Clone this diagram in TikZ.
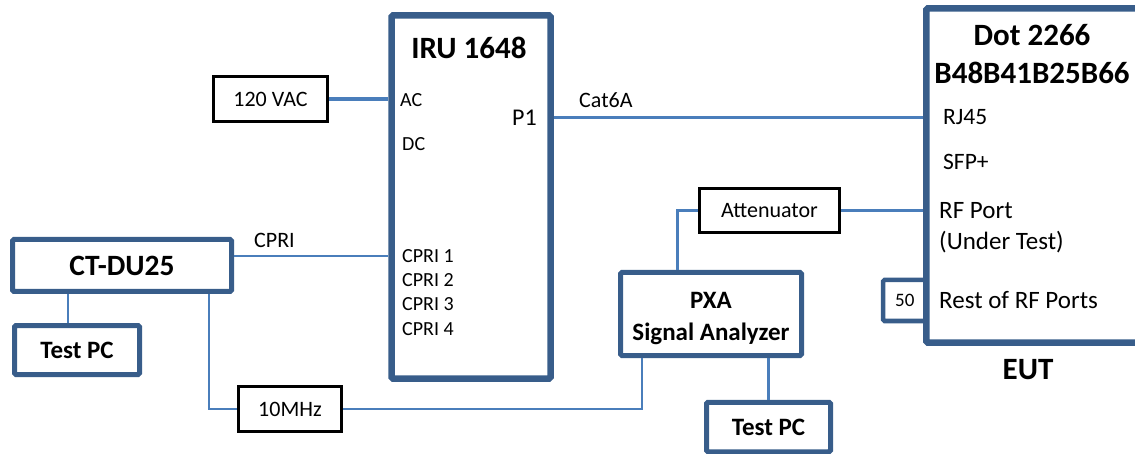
\documentclass[tikz,border=0pt]{standalone}
\usepackage{fontspec}
\setmainfont{Carlito}
\usepackage{xcolor}
\definecolor{boxblue}{HTML}{385D8A}
\definecolor{wireblue}{HTML}{4A7EBB}
\newcommand{\fsz}[1]{\fontsize{#1}{#1}\selectfont}
\usepackage{tikz}
\usetikzlibrary{calc}
\usetikzlibrary{positioning}

\begin{document}
\begin{tikzpicture}[x=1pt, y=-1pt,
    unit/.style={draw=boxblue, line width=6.5pt, rounded corners=1.5pt, inner sep=0pt},
    gear/.style={draw=boxblue, line width=5pt, rounded corners=1.5pt, inner sep=0pt, font=\bfseries\fsz{25}},
    small/.style={draw=black, line width=2.5pt, inner sep=0pt, font=\fsz{22}},
    wire/.style={draw=wireblue, line width=3pt},
    thinwire/.style={draw=wireblue, line width=2pt},
    port/.style={anchor=west, inner sep=0pt, font=\fsz{20}},
    euport/.style={anchor=west, inner sep=0pt, font=\fsz{23.5}},
    title/.style={inner sep=0pt, font=\bfseries\fsz{31}}] % test setup

      \useasboundingbox (0, 0) rectangle (1135, 454);

      \node [unit, line width=4.5pt, minimum width=43.5, minimum height=41, font=\fsz{19}] (term) at (904.75, 300.5) {50};
      \node [unit, minimum width=159, minimum height=363] (iru) at (471, 197) {};
      \node [unit, minimum width=215.5, minimum height=334] (eut) at (1034, 175.5) {};
      \node [small, minimum width=114, minimum height=45] (vac) at (270.5, 99) {120 VAC};
      \node [small, minimum width=103, minimum height=45] (mhz) at (290, 409) {10MHz};
      \node [small, minimum width=140, minimum height=44] (att) at (769.5, 210.5) {Attenuator};
      \node [gear, minimum width=219, minimum height=52, font=\bfseries\fsz{29.5}] (du) at (122, 265.5) {CT-DU25};
      \node [gear, minimum width=125, minimum height=49] (pcl) at (77, 350) {Test PC\hspace{12pt}};
      \node [gear, minimum width=181, minimum height=83] (pxa) at (711, 314) {};
      \node [gear, minimum width=124, minimum height=49.5] (pcr) at (768.5, 427) {Test PC\hspace{10pt}};

      \node [title] (irut) at (469, 48) {IRU 1648};
      \node [title, align=center] (eutt) at (1032, 54) {Dot 2266\\[7pt]B48B41B25B66};
      \node [title] (eutl) at (1028, 370) {EUT};
      \node [inner sep=0pt, align=center, font=\bfseries\fsz{25}] (pxat) at (711, 319) {PXA\\[7pt]Signal Analyzer};

      \node [port] (ac) at (400, 100) {AC};
      \node [port] (dc) at (402, 144) {DC};
      \node [port, anchor=east, font=\fsz{24}] (p1) at (537, 118) {P1};
      \node [port] (cpri1) at (402, 256) {CPRI 1};
      \node [port] (cpri2) at (402, 280) {CPRI 2};
      \node [port] (cpri3) at (402, 304) {CPRI 3};
      \node [port] (cpri4) at (402, 329) {CPRI 4};
      \node [port, font=\fsz{22}] (cat) at (579, 100) {Cat6A};
      \node [port, font=\fsz{22}] (cpril) at (254, 240) {CPRI};

      \node [euport] (rj) at (943, 117.5) {RJ45};
      \node [euport] (sfp) at (943, 162) {SFP+};
      \node [euport, font=\fsz{25}] (rf) at (939, 210.5) {RF Port};
      \node [euport, font=\fsz{25}] (rfut) at (939, 242) {(Under Test)};
      \node [euport, font=\fsz{25}] (rest) at (939, 300) {Rest of RF Ports};

      \draw [wire, line width=4pt] (vac.east) -- (vac.east -| iru.west);
      \draw [wire, line width=3.5pt] (iru.east |- rj) -- (eut.west |- rj);
      \draw [thinwire] (du.east |- cpri1) -- (iru.west |- cpri1);
      \draw [wire, line width=2.5pt] (du.south -| 68, 0) -- (pcl.north -| 68, 0);
      \draw [thinwire] (du.south -| 209, 0) |- (mhz.west);
      \draw [thinwire] (mhz.east) -| (pxa.south -| 642, 0);
      \draw [wire] (pxa.north -| 677, 0) |- (att.west);
      \draw [wire] (att.east) -- (att.east -| eut.west);
      \draw [wire, line width=2.5pt] (pxa.south -| pcr.north) -- (pcr.north);

    \end{tikzpicture}
\end{document}
